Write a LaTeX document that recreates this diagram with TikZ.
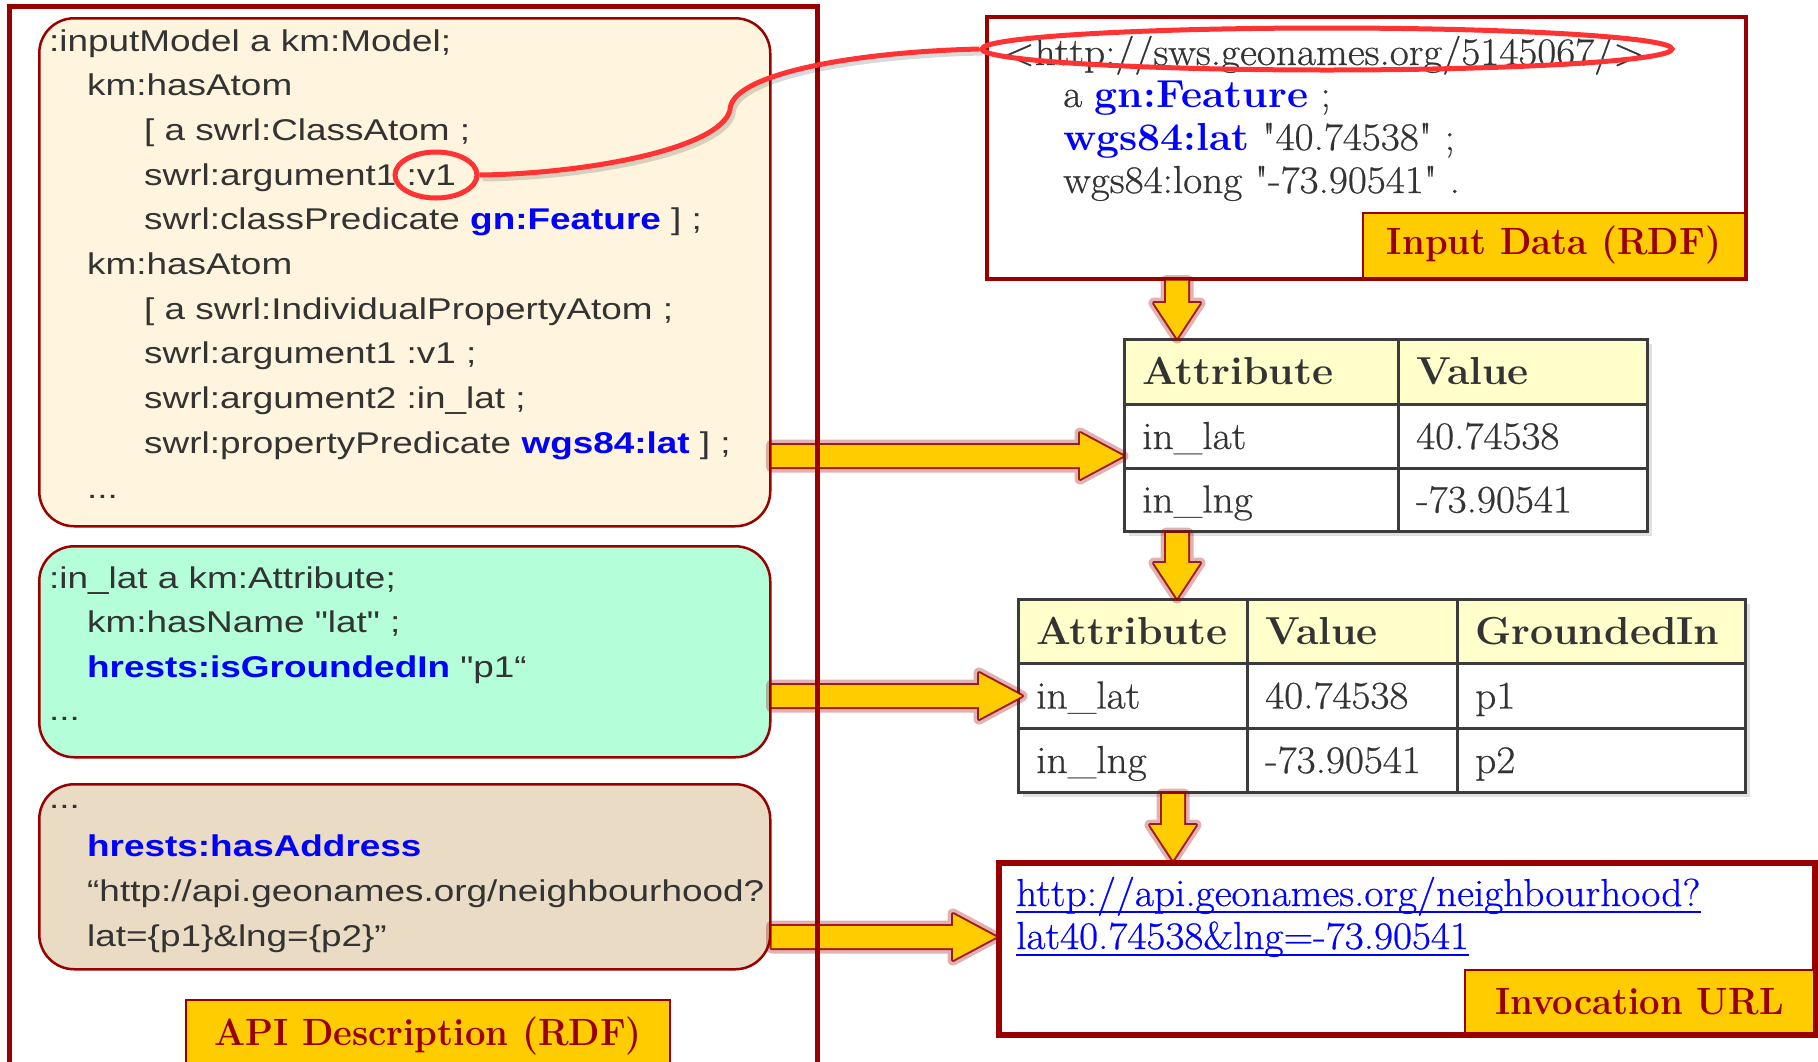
\documentclass[tikz,border=0pt]{standalone}
\usepackage{fontspec}
\setmainfont{Latin Modern Roman}
\newfontfamily\sansw[FakeStretch=1.23]{Liberation Sans}
\newfontfamily\serifw[FakeStretch=1.06,FakeBold=0.6]{Latin Modern Roman}
\newfontfamily\serifb[FakeStretch=0.96]{Latin Modern Roman}
\newfontfamily\serifh[FakeStretch=1.05]{Latin Modern Roman}
\usetikzlibrary{calc,shapes.geometric}
\definecolor{frame}{HTML}{990000}
\definecolor{cream}{HTML}{FFF5DE}
\definecolor{mint}{HTML}{B4FFD9}
\definecolor{tanbox}{HTML}{E9DBC4}
\definecolor{lab}{HTML}{FFCC00}
\definecolor{hdr}{HTML}{FFFFCC}
\definecolor{grid}{HTML}{3C3C3C}
\definecolor{txt}{HTML}{333333}
\definecolor{kw}{HTML}{0000FF}
\definecolor{hlred}{HTML}{FF3333}
\newcommand\kwA[1]{{\bfseries\color{kw}#1}}
\newcommand\kwB[1]{{\serifh\bfseries\fontsize{39}{44}\selectfont\color{kw}#1}}
\newcommand\hb[1]{{\serifh\bfseries\fontsize{39}{44}\selectfont #1}}
\tikzset{
 lefttxt/.style={anchor=base west, inner sep=0, text=txt, font=\sansw\fontsize{30}{36}\selectfont},
 righttxt/.style={anchor=base west, inner sep=0, text=txt, font=\serifw\fontsize{39}{45}\selectfont},
 urltxt/.style={anchor=base west, inner sep=0, text=kw, font=\serifw\fontsize{39}{45}\selectfont},
 rbox/.style={draw=frame, line width=2.5, rounded corners=35, inner sep=0, anchor=north west},
 sqbox/.style={draw=frame, fill=white, inner sep=0, anchor=north west},
 labelbox/.style={fill=lab, draw=frame, line width=2, inner sep=0, anchor=north west, text=frame, font=\serifb\bfseries\fontsize{38}{44}\selectfont},
 cell/.style={draw=grid, line width=3, inner sep=0, anchor=north west},
 arrglow/.style={draw=frame, line width=11, opacity=0.3, line join=round},
 arredge/.style={draw=frame, line width=4, opacity=0.85, line join=round},
 arrfill/.style={fill=lab},
 hl/.style={draw=hlred, line width=5},
 hlshadow/.style={draw=black, line width=5, opacity=0.15},
 tshadow/.style={fill=black, opacity=0.12},
}
\newcommand\tcell[7]{%
 \node[cell, fill=#6, minimum width=#4, minimum height=#5] (#1) at (#2,#3) {};
 \node[righttxt] (#1t) at ({#2+19},{#3+#5/2+14}) {#7};}
\newcommand\harrow[2]{%
 \coordinate (hA) at (#1); \coordinate (hB) at (#2);
 \foreach \st in {arrglow,arredge,arrfill}{\path[\st] ($(hA)+(0,-11)$) -- ($(hB)+(-43,-11)$) -- ($(hB)+(-43,-23)$) -- (hB) -- ($(hB)+(-43,23)$) -- ($(hB)+(-43,11)$) -- ($(hA)+(0,11)$) -- cycle;}}
\newcommand\varrow[2]{%
 \coordinate (vA) at (#1); \coordinate (vB) at (#2);
 \foreach \st in {arrglow,arredge,arrfill}{\path[\st] ($(vA)+(-11,0)$) -- ($(vB)+(-11,-35)$) -- ($(vB)+(-23,-35)$) -- (vB) -- ($(vB)+(23,-35)$) -- ($(vB)+(11,-35)$) -- ($(vA)+(11,0)$) -- cycle;}}
\begin{document}
\begin{tikzpicture}[x=1pt,y=-1pt]
\useasboundingbox (0,0) rectangle (1818,1061);
\fill[white] (0,0) rectangle (1818,1061);

% ---------- left: API description ----------
\node[rbox, fill=cream, minimum width=731, minimum height=508] (b1) at (38,17) {};
\node[rbox, fill=mint, minimum width=731, minimum height=211] (b2) at (38,545) {};
\node[rbox, fill=tanbox, minimum width=731, minimum height=185] (b3) at (38,783) {};

\node[lefttxt] (b1l1) at (49,51) {:inputModel a km:Model;};
\node[lefttxt] (b1l2) at (87,95.7) {km:hasAtom};
\node[lefttxt] (b1l3) at (144,140.4) {[ a swrl:ClassAtom ;};
\node[lefttxt] (b1l4) at (144,185.1) {swrl:argument1 :v1};
\node[lefttxt] (b1l5) at (144,229.8) {swrl:classPredicate \kwA{gn:Feature} ] ;};
\node[lefttxt] (b1l6) at (87,274.5) {km:hasAtom};
\node[lefttxt] (b1l7) at (144,319.2) {[ a swrl:IndividualPropertyAtom ;};
\node[lefttxt] (b1l8) at (144,363.9) {swrl:argument1 :v1 ;};
\node[lefttxt] (b1l9) at (144,408.6) {swrl:argument2 :in\_lat ;};
\node[lefttxt] (b1l10) at (144,453.3) {swrl:propertyPredicate \kwA{wgs84:lat} ] ;};
\node[lefttxt] (b1l11) at (87,498) {...};

\node[lefttxt] (b2l1) at (49,588) {:in\_lat a km:Attribute;};
\node[lefttxt] (b2l2) at (87,632.5) {km:hasName "lat" ;};
\node[lefttxt] (b2l3) at (87,677) {\kwA{hrests:isGroundedIn} "p1“};
\node[lefttxt] (b2l4) at (49,720) {...};

\node[lefttxt] (b3l1) at (49,808) {...};
\node[lefttxt] (b3l2) at (87,856) {\kwA{hrests:hasAddress}};
\node[lefttxt] (b3l3) at (87,901) {“http://api.geonames.org/neighbourhood?};
\node[lefttxt] (b3l4) at (87,946) {lat=\{p1\}\&lng=\{p2\}”};

\node[labelbox, minimum width=484, minimum height=72] (apilab) at (185,999) {API Description (RDF)};

% ---------- right: input data ----------
\node[sqbox, line width=3.5, minimum width=759, minimum height=262] (ibox) at (985,15) {};
\node[righttxt] (r1) at (1003,65) {<http://sws.geonames.org/5145067/>};
\node[righttxt] (r2) at (1063,107) {a \kwB{gn:Feature} ;};
\node[righttxt] (r3) at (1063,150) {\kwB{wgs84:lat} "40.74538" ;};
\node[righttxt] (r4) at (1063,193) {wgs84:long "-73.90541" .};
\node[labelbox, minimum width=382, minimum height=65] (ilab) at (1362,212) {Input Data (RDF)};

% ---------- table 1 ----------
\fill[tshadow] (1129,344) rectangle (1652,536);
\tcell{t1h1}{1123}{338}{274}{65}{hdr}{\hb{Attribute}}
\tcell{t1h2}{1397}{338}{249}{65}{hdr}{\hb{Value}}
\tcell{t1a1}{1123}{403}{274}{64}{white}{in\_lat}
\tcell{t1v1}{1397}{403}{249}{64}{white}{40.74538}
\tcell{t1a2}{1123}{467}{274}{63}{white}{in\_lng}
\tcell{t1v2}{1397}{467}{249}{63}{white}{-73.90541}

% ---------- table 2 ----------
\fill[tshadow] (1023,604) rectangle (1750,797);
\tcell{t2h1}{1017}{598}{229}{64}{hdr}{\hb{Attribute}}
\tcell{t2h2}{1246}{598}{210}{64}{hdr}{\hb{Value}}
\tcell{t2h3}{1456}{598}{288}{64}{hdr}{\hb{GroundedIn}}
\tcell{t2a1}{1017}{662}{229}{65}{white}{in\_lat}
\tcell{t2v1}{1246}{662}{210}{65}{white}{40.74538}
\tcell{t2g1}{1456}{662}{288}{65}{white}{p1}
\tcell{t2a2}{1017}{727}{229}{64}{white}{in\_lng}
\tcell{t2v2}{1246}{727}{210}{64}{white}{-73.90541}
\tcell{t2g2}{1456}{727}{288}{64}{white}{p2}

% ---------- invocation URL ----------
\node[sqbox, line width=6, minimum width=816, minimum height=172] (inv) at (996,860) {};
\node[urltxt] (u1) at (1016,906) {http://api.geonames.org/neighbourhood?};
\node[urltxt] (u2) at (1016,949) {lat40.74538\&lng=-73.90541};
\draw[kw, line width=2.5] ($(u1.base west)+(0,6)$) -- ($(u1.base east)+(0,6)$);
\draw[kw, line width=2.5] ($(u2.base west)+(0,6)$) -- ($(u2.base east)+(0,6)$);
\node[labelbox, minimum width=349, minimum height=63] (invlab) at (1464,969) {Invocation URL};

% ---------- arrows ----------
\coordinate (hy1) at (0,456);
\coordinate (hy3) at (0,937);
\coordinate (vx1) at (1177,0);
\coordinate (vx3) at (1173,0);
\harrow{b1.east |- hy1}{t1a1.west |- hy1}
\harrow{b2.east |- t2a1.west}{$(t2a1.west)+(5,0)$}
\harrow{b3.east |- hy3}{inv.west |- hy3}
\varrow{vx1 |- ibox.south}{vx1 |- t1h1.north}
\varrow{vx1 |- t1a2.south}{vx1 |- t2h1.north}
\varrow{vx3 |- t2a2.south}{vx3 |- inv.north}

% ---------- outer frame ----------
\draw[frame, line width=5] (9,1075) -- (9,6) -- (817,6) -- (817,1075);

% ---------- highlight ----------
\node[ellipse, hl, minimum width=82, minimum height=46, inner sep=0] (circ) at (436,175) {};
\node[ellipse, hl, minimum width=690, minimum height=42, inner sep=0] (ell) at (1327,49) {};
\draw[hlshadow] ($(ell.west)+(3,4)$) .. controls (850,56) and (733,79) .. (733,114) .. controls (723,154) and (583,178) .. ($(circ.east)+(3,4)$);
\draw[hlred, line width=5] (circ.east) .. controls (580,174) and (720,150) .. (730,110) .. controls (730,75) and (850,52) .. (ell.west);
\end{tikzpicture}
\end{document}
